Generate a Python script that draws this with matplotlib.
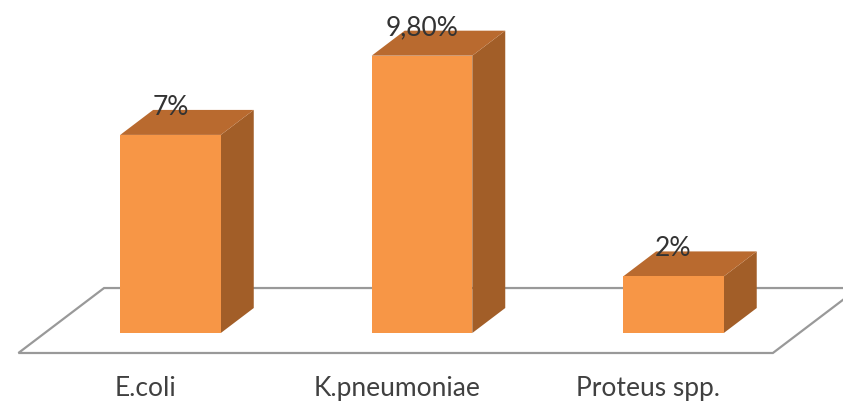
import matplotlib.pyplot as plt
from matplotlib.patches import Polygon

categories = ['E.coli', 'K.pneumoniae', 'Proteus spp.']
values = [7.0, 9.8, 2.0]
value_labels = ['7%', '9,80%', '2%']

front_col = '#F79646'
top_col = '#B96A2F'
side_col = '#A25E28'
floor_col = '#999999'

plt.rcParams['font.family'] = ['Lato', 'DejaVu Sans']

fig = plt.figure(figsize=(8.43, 4.05), dpi=100)
ax = fig.add_axes([0, 0, 1, 1])
ax.set_xlim(-0.678, 2.674)
ax.set_ylim(-2.544, 11.767)
ax.axis('off')

# fake 3d: one unit of depth shifts right and up
ddx, ddy = 0.131, 0.883
w = 0.4


def shift(x, y, d):
    return (x + d * ddx, y + d * ddy)


# floor
floor = [shift(-0.5, 0, -0.8), shift(2.5, 0, -0.8),
         shift(2.5, 0, 1.8), shift(-0.5, 0, 1.8)]
ax.add_patch(Polygon(floor, closed=True, facecolor='white',
                     edgecolor=floor_col, lw=1.6, zorder=1))

for i, v in enumerate(values):
    x0, x1 = i - w / 2, i + w / 2
    front = [(x0, 0), (x1, 0), (x1, v), (x0, v)]
    top = [(x0, v), (x1, v), shift(x1, v, 1), shift(x0, v, 1)]
    side = [(x1, 0), shift(x1, 0, 1), shift(x1, v, 1), (x1, v)]
    ax.add_patch(Polygon(side, closed=True, facecolor=side_col, edgecolor='none', zorder=2))
    ax.add_patch(Polygon(top, closed=True, facecolor=top_col, edgecolor='none', zorder=2))
    ax.add_patch(Polygon(front, closed=True, facecolor=front_col, edgecolor='none', zorder=3))

    ax.text(i, v + ddy + 0.1, value_labels[i], ha='center', va='center',
            fontsize=19, color='#333333', zorder=4)
    ax.text(i - 0.1, -1.95, categories[i], ha='center', va='center',
            fontsize=19, color='#404040')

fig.savefig('out.png', dpi=100)
